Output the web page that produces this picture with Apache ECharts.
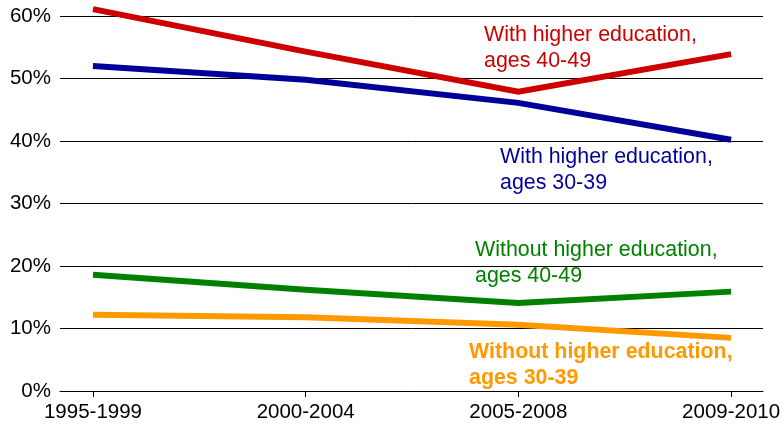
<!DOCTYPE html>
<html>
<head>
<meta charset="utf-8">
<script src="https://cdn.jsdelivr.net/npm/echarts@6/dist/echarts.min.js"></script>
<style>
  html, body { margin: 0; padding: 0; background: #fff; }
  #chart { width: 784px; height: 432px; }
</style>
</head>
<body>
<div id="chart"></div>
<script>
// Period labels along the horizontal axis
const periods = ['1995-1999', '2000-2004', '2005-2008', '2009-2010'];

// Share of each group, in percent
const higherEd4049 = [61.1, 54.3, 47.9, 53.9];
const higherEd3039 = [52.0, 49.8, 46.1, 40.2];
const noHigherEd4049 = [18.6, 16.2, 14.1, 15.9];
const noHigherEd3039 = [12.2, 11.8, 10.6, 8.5];

// Vertical axis ticks
const yTicks = [0, 10, 20, 30, 40, 50, 60];

const FONT = "'Liberation Sans', Arial, sans-serif";
const periodIndex = periods.map((_, i) => i);

function toPoints(values) {
  return values.map((v, i) => [i, v]);
}

function lineSeries(name, values, color) {
  return {
    name: name,
    type: 'line',
    data: toPoints(values),
    symbol: 'none',
    clip: false,
    lineStyle: { color: color, width: 6, join: 'miter', cap: 'butt' },
    emphasis: { disabled: true },
    silent: true,
    z: 3
  };
}

const chart = echarts.init(document.getElementById('chart'), null, { renderer: 'canvas' });

chart.setOption({
  animation: false,
  backgroundColor: '#fff',
  textStyle: { fontFamily: FONT },
  grid: { left: 60, right: 21, top: 16, bottom: 41, containLabel: false },
  xAxis: {
    type: 'value',
    min: -0.155,
    max: 3.15,
    splitLine: { show: false },
    axisLine: { show: true, onZero: false, lineStyle: { color: '#000', width: 1 } },
    axisTick: {
      show: true,
      customValues: periodIndex,
      length: 6,
      lineStyle: { color: '#000', width: 1 }
    },
    axisLabel: {
      customValues: periodIndex,
      formatter: v => periods[Math.round(v)],
      color: '#000',
      fontSize: 20.5,
      fontFamily: FONT,
      margin: 11
    }
  },
  yAxis: {
    type: 'value',
    min: yTicks[0],
    max: yTicks[yTicks.length - 1],
    interval: 10,
    axisLine: { show: false },
    axisTick: { show: false },
    splitLine: { show: true, lineStyle: { color: '#000', width: 1 } },
    axisLabel: {
      formatter: '{value}%',
      color: '#000',
      fontSize: 20.5,
      fontFamily: FONT,
      margin: 9
    }
  },
  series: [
    lineSeries('With higher education, ages 40-49', higherEd4049, '#CC0000'),
    lineSeries('With higher education, ages 30-39', higherEd3039, '#000099'),
    lineSeries('Without higher education, ages 40-49', noHigherEd4049, '#008000'),
    lineSeries('Without higher education, ages 30-39', noHigherEd3039, '#FF9900')
  ],
  graphic: [
    {
      type: 'text', left: 484, top: 22, z: 10, silent: true,
      style: {
        text: 'With higher education,\nages 40-49',
        fill: '#CC0000', font: '21.4px ' + FONT, lineHeight: 26
      }
    },
    {
      type: 'text', left: 500, top: 144, z: 10, silent: true,
      style: {
        text: 'With higher education,\nages 30-39',
        fill: '#000099', font: '21.4px ' + FONT, lineHeight: 26
      }
    },
    {
      type: 'text', left: 475, top: 237, z: 10, silent: true,
      style: {
        text: 'Without higher education,\nages 40-49',
        fill: '#008000', font: '21.4px ' + FONT, lineHeight: 26
      }
    },
    {
      type: 'text', left: 469, top: 339, z: 10, silent: true,
      style: {
        text: 'Without higher education,\nages 30-39',
        fill: '#FF9900', font: 'bold 21.4px ' + FONT, lineHeight: 26
      }
    }
  ]
});
</script>
</body>
</html>
